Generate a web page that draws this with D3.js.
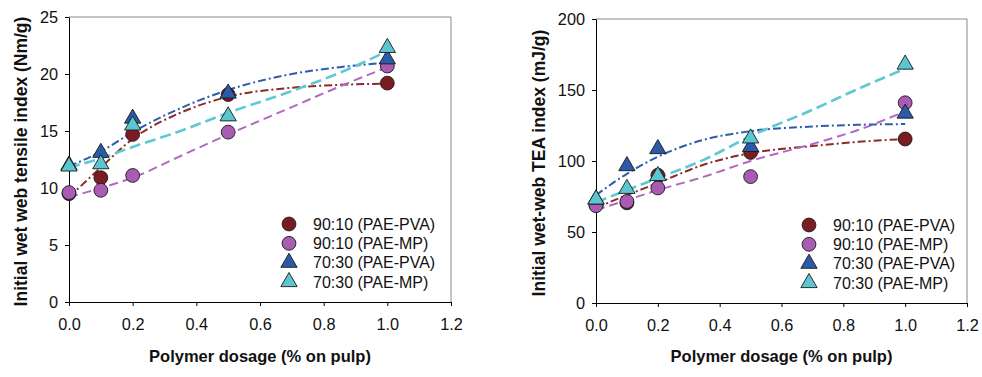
<!DOCTYPE html>
<html>
<head>
<meta charset="utf-8">
<script src="https://cdn.jsdelivr.net/npm/d3@7"></script>
<style>
  body { margin: 0; background: #fff; }
  svg { display: block; font-family: "Liberation Sans", Arial, sans-serif; }
</style>
</head>
<body>
<div id="chart"></div>
<script>
// dosage values (% on pulp)
const dosage = [0, 0.1, 0.2, 0.5, 1.0];

const seriesNames = ["90:10 (PAE-PVA)", "90:10 (PAE-MP)", "70:30 (PAE-PVA)", "70:30 (PAE-MP)"];

// tensile index (Nm/g)
const tensilePva9010 = [9.5, 10.9, 14.7, 18.2, 19.2];
const tensileMp9010 = [9.6, 9.8, 11.1, 14.9, 20.7];
const tensilePva7030 = [12.0, 13.1, 16.1, 18.3, 21.3];
const tensileMp7030 = [11.9, 12.1, 15.5, 16.3, 22.3];

// TEA index (mJ/g)
const teaPva9010 = [69, 70.5, 90, 106, 115.5];
const teaMp9010 = [68.5, 71.5, 81, 89, 141];
const teaPva7030 = [73, 96.5, 108.5, 110, 133.5];
const teaMp7030 = [73, 80.5, 89.5, 116, 168];

// trend lines
const trendX = [0, 0.1, 0.2, 0.35, 0.5, 0.7, 0.85, 1.0];
const tensileTrend = [
  [9.2, 11.8, 14.3, 16.6, 18.0, 18.8, 19.05, 19.15],
  [9.2, 10.0, 10.9, 12.8, 14.7, 17.1, 18.9, 20.6],
  [11.9, 13.2, 14.9, 17.0, 18.6, 20.0, 20.6, 21.0],
  [11.8, 12.6, 13.6, 15.0, 16.6, 18.5, 20.1, 22.0]
];
const teaTrend = [
  [67, 76, 84.5, 97.5, 105.5, 110.5, 113.5, 115.5],
  [65.5, 72.5, 79.5, 89, 100, 112, 122, 135],
  [76, 91, 103, 115, 121, 124.3, 125.5, 126],
  [71, 79.5, 88, 101, 117.5, 136, 151, 165]
];

const xTicks = [0, 0.2, 0.4, 0.6, 0.8, 1.0, 1.2];
const tensileTicks = [0, 5, 10, 15, 20, 25];
const teaTicks = [0, 50, 100, 150, 200];

const fillColors = ["#7a1c22", "#aa5cb4", "#2b5ba8", "#5cc6d0"];
const lineColors = ["#8a2c2c", "#b467c2", "#2e5dab", "#5ec8d3"];
const dashes = ["8,3,2,3", "9,5", "8,3,2,3", "11,5"];
const lineWidths = [2, 2, 2, 2.6];
const shapes = [d3.symbolCircle, d3.symbolCircle, d3.symbolTriangle, d3.symbolTriangle];

const svg = d3.select("#chart").append("svg")
  .attr("width", 982)
  .attr("height", 377);

function drawPanel(opts) {
  const x = d3.scaleLinear().domain([0, 1.2]).range([opts.left, opts.right]);
  const y = d3.scaleLinear().domain([0, opts.yMax]).range([opts.bottom, opts.top]);
  const g = svg.append("g");

  // frame (top / right in grey)
  g.append("path")
    .attr("d", `M${opts.left},${opts.top}H${opts.right}V${opts.bottom}`)
    .attr("fill", "none").attr("stroke", "#8a8a8a").attr("stroke-width", 1);

  const xAxis = g.append("g")
    .attr("transform", `translate(0,${opts.bottom})`)
    .call(d3.axisBottom(x).tickValues(xTicks).tickFormat(d3.format(".1f")).tickSize(4).tickPadding(14).tickSizeOuter(0));
  const yAxis = g.append("g")
    .attr("transform", `translate(${opts.left},0)`)
    .call(d3.axisLeft(y).tickValues(opts.yTicks).tickSize(4).tickPadding(7).tickSizeOuter(0));
  [xAxis, yAxis].forEach(a => {
    a.select(".domain").attr("stroke", "#000");
    a.selectAll(".tick line").attr("stroke", "#000");
    a.selectAll("text").attr("font-size", 16.3).attr("fill", "#111")
      .attr("font-family", "'Liberation Sans', Arial, sans-serif");
  });
  xAxis.selectAll("text").attr("dy", "0.62em");
  yAxis.selectAll("text").attr("dy", "0.36em");

  // axis titles
  g.append("text")
    .attr("x", (opts.left + opts.right) / 2)
    .attr("y", 362)
    .attr("text-anchor", "middle")
    .attr("font-size", 16.5)
    .attr("font-weight", "bold")
    .attr("fill", "#111")
    .text("Polymer dosage (% on pulp)");
  g.append("text")
    .attr("transform", `translate(${opts.titleX},${(opts.top + opts.bottom) / 2 + 2}) rotate(-90)`)
    .attr("text-anchor", "middle")
    .attr("font-size", opts.titleSize)
    .attr("font-weight", "bold")
    .attr("fill", "#111")
    .text(opts.yTitle);

  // trend lines
  const line = d3.line()
    .x(d => x(d[0]))
    .y(d => y(d[1]))
    .curve(d3.curveMonotoneX);
  opts.trends.forEach((vals, i) => {
    g.append("path")
      .datum(trendX.map((t, j) => [t, vals[j]]))
      .attr("fill", "none")
      .attr("stroke", lineColors[i])
      .attr("stroke-width", lineWidths[i])
      .attr("stroke-dasharray", dashes[i])
      .attr("d", line);
  });

  // markers
  opts.series.forEach((vals, i) => {
    const sym = d3.symbol().type(shapes[i]).size(i < 2 ? 150 : 115);
    g.selectAll(null)
      .data(vals.map((v, j) => [dosage[j], v]))
      .join("path")
      .attr("transform", d => `translate(${x(d[0])},${y(d[1])})`)
      .attr("d", sym)
      .attr("fill", fillColors[i])
      .attr("stroke", "#1a1a1a")
      .attr("stroke-width", 0.9);
  });

  // legend
  const legend = g.append("g");
  seriesNames.forEach((name, i) => {
    const ly = opts.legendY + i * 19.3;
    legend.append("path")
      .attr("transform", `translate(${opts.legendX},${ly})`)
      .attr("d", d3.symbol().type(shapes[i]).size(i < 2 ? 150 : 115))
      .attr("fill", fillColors[i])
      .attr("stroke", "#1a1a1a")
      .attr("stroke-width", 0.9);
    legend.append("text")
      .attr("x", opts.legendX + 24)
      .attr("y", ly)
      .attr("dy", "0.36em")
      .attr("font-size", 16)
      .attr("fill", "#111")
      .text(name);
  });
}

drawPanel({
  left: 69, right: 451, top: 17, bottom: 302,
  yMax: 25, yTicks: tensileTicks,
  yTitle: "Initial wet web tensile index (Nm/g)", titleX: 27, titleSize: 17.5,
  series: [tensilePva9010, tensileMp9010, tensilePva7030, tensileMp7030],
  trends: tensileTrend,
  legendX: 289, legendY: 224
});

drawPanel({
  left: 596, right: 967, top: 19, bottom: 303,
  yMax: 200, yTicks: teaTicks,
  yTitle: "Initial wet-web TEA index (mJ/g)", titleX: 545, titleSize: 17.5,
  series: [teaPva9010, teaMp9010, teaPva7030, teaMp7030],
  trends: teaTrend,
  legendX: 809, legendY: 225
});
</script>
</body>
</html>
